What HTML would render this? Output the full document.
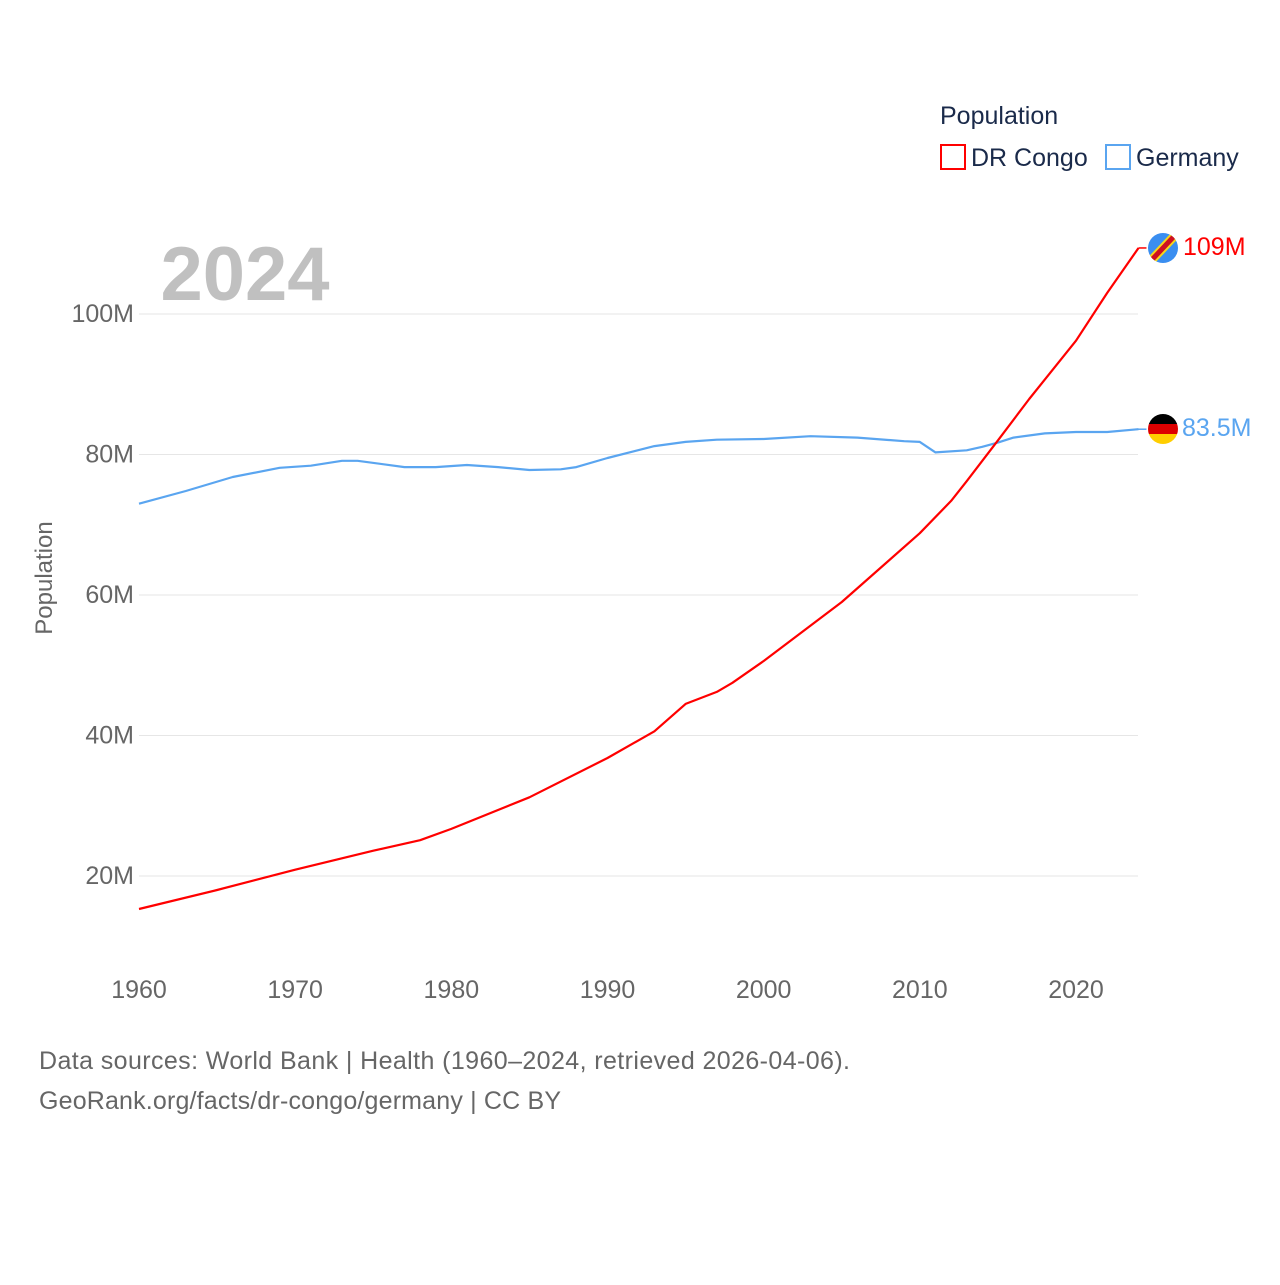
<!DOCTYPE html>
<html><head><meta charset="utf-8"><style>
body{margin:0;background:#fff;font-family:"Liberation Sans",sans-serif;}
svg text{font-family:"Liberation Sans",sans-serif;}
</style></head><body>
<svg width="1280" height="1280" viewBox="0 0 1280 1280" xmlns="http://www.w3.org/2000/svg">
<g id="grid"></g>
<g id="yticks"></g>
<g id="xticks"></g>
<text x="245" y="300" font-size="76" font-weight="bold" fill="#c0c0c0" text-anchor="middle">2024</text>
<text x="52" y="578" font-size="24" fill="#666" text-anchor="middle" transform="rotate(-90 52 578)">Population</text>
<g id="lines"></g>
<g>
<text x="940" y="124" font-size="25" fill="#1a2a4a">Population</text>
<g><rect x="941" y="145" width="24" height="24" fill="none" stroke="#ff0000" stroke-width="2"/><text x="971" y="166" font-size="25" fill="#1a2a4a">DR Congo</text></g>
<g><rect x="1106" y="145" width="24" height="24" fill="none" stroke="#5aa5f0" stroke-width="2"/><text x="1136" y="166" font-size="25" fill="#1a2a4a">Germany</text></g>
</g>
<g>
<clipPath id="c1"><circle cx="1163" cy="248" r="15"/></clipPath>
<g clip-path="url(#c1)"><rect x="1148" y="233" width="30" height="30" fill="#3a8ef0"/><line x1="1146" y1="266" x2="1180" y2="230" stroke="#f7d618" stroke-width="9"/><line x1="1146" y1="266" x2="1180" y2="230" stroke="#ce1021" stroke-width="5"/></g>
</g>
<g>
<clipPath id="c2"><circle cx="1163" cy="429" r="15"/></clipPath>
<g clip-path="url(#c2)"><rect x="1148" y="414" width="30" height="10" fill="#000"/><rect x="1148" y="424" width="30" height="10" fill="#dd0000"/><rect x="1148" y="434" width="30" height="10" fill="#ffce00"/></g>
</g>
<text x="1183" y="255" font-size="25" fill="#ff0000">109M</text>
<text x="1182" y="436" font-size="25" fill="#5aa5f0">83.5M</text>
<text x="39" y="1069" font-size="25" fill="#666" textLength="811">Data sources: World Bank | Health (1960–2024, retrieved 2026-04-06).</text>
<text x="39" y="1109" font-size="25" fill="#666" textLength="522">GeoRank.org/facts/dr-congo/germany | CC BY</text>
</svg>
<script>
const congoYears=[1960,1965,1970,1975,1978,1980,1985,1990,1993,1995,1997,1998,2000,2005,2010,2012,2013,2015,2017,2020,2022,2024];
const congoValues=[15.3,18.0,20.9,23.6,25.1,26.7,31.2,36.8,40.6,44.5,46.2,47.5,50.6,59.0,68.8,73.4,76.2,82.0,87.9,96.2,103.0,109.4];
const germanyYears=[1960,1963,1966,1969,1971,1973,1974,1977,1979,1981,1983,1985,1987,1988,1990,1993,1995,1997,2000,2003,2006,2009,2010,2011,2013,2014,2015,2016,2018,2020,2022,2024];
const germanyValues=[73.0,74.8,76.8,78.1,78.4,79.1,79.1,78.2,78.2,78.5,78.2,77.8,77.9,78.2,79.5,81.2,81.8,82.1,82.2,82.6,82.4,81.9,81.8,80.3,80.6,81.1,81.7,82.4,83.0,83.2,83.2,83.6];
const yTicks=[20,40,60,80,100];
const yTickLabels=["20M","40M","60M","80M","100M"];
const xTicks=[1960,1970,1980,1990,2000,2010,2020];
const NS="http://www.w3.org/2000/svg";
function xs(y){return 139+(y-1960)*(937/60);}
function ys(v){return 876-(v-20)*7.025;}
function mk(t,a,p){const e=document.createElementNS(NS,t);for(const k in a)e.setAttribute(k,a[k]);p.appendChild(e);return e;}
const grid=document.getElementById('grid'),yt=document.getElementById('yticks'),xt=document.getElementById('xticks'),lines=document.getElementById('lines');
yTicks.forEach((v,i)=>{
 const l=mk('line',{x1:139,x2:1138,y1:ys(v),y2:ys(v),stroke:'#e6e6e6','stroke-width':1},grid);
 
 
 const t=mk('text',{x:134,y:ys(v)+8,'font-size':25,fill:'#666','text-anchor':'end'},yt);
 t.textContent=yTickLabels[i];
 
 
});
xTicks.forEach(y=>{
 const t=mk('text',{x:xs(y),y:998,'font-size':25,fill:'#666','text-anchor':'middle'},xt);
 t.textContent=y;
 
 
});
function draw(yrs,vals,color,name){
 const d=yrs.map((y,i)=>(i?'L':'M')+xs(y).toFixed(1)+','+ys(vals[i]).toFixed(1)).join(' ');
 const p=mk('path',{d:d,fill:'none',stroke:color,'stroke-width':2.2,'stroke-linejoin':'round'},lines);
 
 
 const last=vals[vals.length-1],lx=xs(yrs[yrs.length-1]);
 const s=mk('line',{x1:lx,x2:lx+8,y1:ys(last),y2:ys(last),stroke:color,'stroke-width':1.5},lines);
 
 
}
draw(germanyYears,germanyValues,'#5aa5f0','line-germany');
draw(congoYears,congoValues,'#ff0000','line-dr-congo');
</script>
</body></html>
